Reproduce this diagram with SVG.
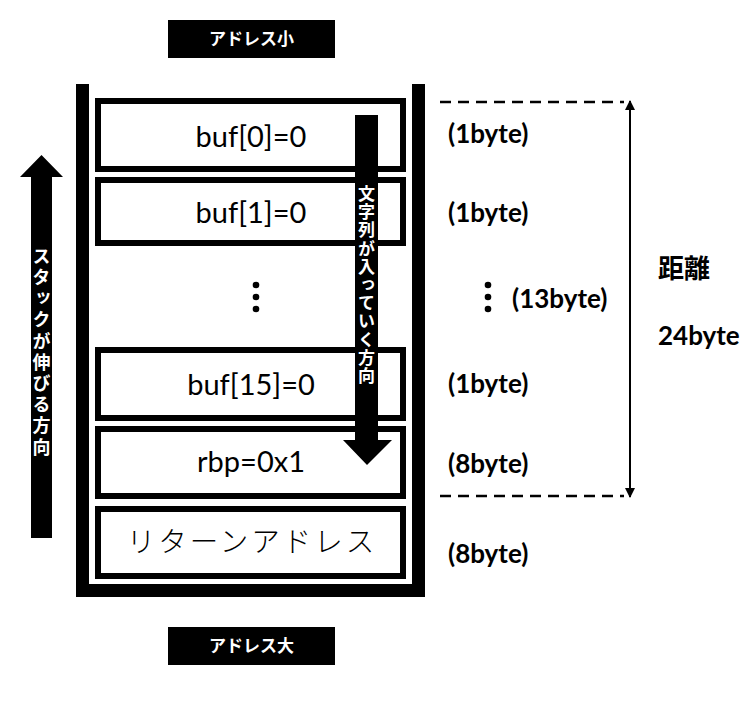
<svg xmlns="http://www.w3.org/2000/svg" width="756" height="704" viewBox="0 0 756 704">
<defs>
<style>
.lbl{fill:#000}
.lbltxt{font-family:"Noto Sans CJK JP","Noto Sans",sans-serif;font-weight:bold;font-size:17px;fill:#fff;text-anchor:middle}
.box{fill:#fff;stroke:#000;stroke-width:6}
.btxt{font-family:Lato,"Liberation Sans",sans-serif;font-size:29px;fill:#000;text-anchor:middle}
.size{font-family:Lato,"Liberation Sans",sans-serif;font-weight:bold;font-size:26px;fill:#000}
.vtxt{font-family:"Noto Sans CJK JP",sans-serif;font-weight:bold;fill:#fff;writing-mode:vertical-rl}
.dash{stroke:#000;stroke-width:2.4;stroke-dasharray:11 7;fill:none}
</style>
<marker id="ah" viewBox="0 0 10 10" refX="9" refY="5" markerWidth="10" markerHeight="10" markerUnits="userSpaceOnUse" orient="auto-start-reverse">
<path d="M0,0 L10,5 L0,10 Z" fill="#000"/>
</marker>
</defs>
<rect width="756" height="704" fill="#fff"/>

<g id="label-top">
<rect class="lbl" x="168" y="20" width="167" height="38"/>
<text class="lbltxt" x="251.5" y="45">アドレス小</text>
</g>

<g id="stack-container">
<path d="M82.5,84 V590.5 H418.5 V84" fill="none" stroke="#000" stroke-width="13"/>
</g>

<g id="buf0">
<rect class="box" x="98" y="101" width="305" height="68"/>
<text class="btxt" x="251" y="147">buf[0]=0</text>
</g>
<g id="buf1">
<rect class="box" x="98" y="180" width="305" height="63"/>
<text class="btxt" x="251" y="223">buf[1]=0</text>
</g>
<g id="dots-mid">
<circle cx="256" cy="285" r="3.3"/>
<circle cx="256" cy="297" r="3.3"/>
<circle cx="256" cy="309" r="3.3"/>
</g>
<g id="buf15">
<rect class="box" x="98" y="350" width="305" height="68"/>
<text class="btxt" x="251" y="395">buf[15]=0</text>
</g>
<g id="rbp">
<rect class="box" x="98" y="429" width="305" height="67"/>
<text class="btxt" x="251" y="472">rbp=0x1</text>
</g>
<g id="retaddr">
<rect class="box" x="98" y="509" width="305" height="67"/>
<text x="252" y="552" font-family="'Noto Sans CJK JP',sans-serif" font-weight="300" font-size="28.5" letter-spacing="3" text-anchor="middle" fill="#000">リターンアドレス</text>
</g>

<g id="arrow-stack-grow">
<polygon points="41.5,155 63,177 52,177 52,538 31,538 31,177 20,177" fill="#000"/>
<text class="vtxt" x="41.5" y="247" font-size="18" letter-spacing="3.2">スタックが伸びる方向</text>
</g>

<g id="arrow-string">
<polygon points="367,465 392,440 378,440 378,115 355,115 355,440 343,440" fill="#000"/>
<text class="vtxt" x="366.5" y="185" font-size="17" letter-spacing="1.2">文字列が入っていく方向</text>
</g>

<g id="label-bottom">
<rect class="lbl" x="168" y="627" width="167" height="38"/>
<text class="lbltxt" x="251.5" y="652">アドレス大</text>
</g>

<g id="connectors">
<line class="dash" x1="440" y1="102" x2="624" y2="102"/>
<line class="dash" x1="440" y1="496" x2="624" y2="496"/>
<line x1="630" y1="101" x2="630" y2="497" stroke="#000" stroke-width="2" marker-start="url(#ah)" marker-end="url(#ah)"/>
</g>

<g id="sizes">
<text class="size" x="448" y="143">(1byte)</text>
<text class="size" x="448" y="222">(1byte)</text>
<circle cx="488" cy="285" r="3.3"/>
<circle cx="488" cy="297" r="3.3"/>
<circle cx="488" cy="309" r="3.3"/>
<text class="size" x="512" y="308">(13byte)</text>
<text class="size" x="448" y="393">(1byte)</text>
<text class="size" x="448" y="473">(8byte)</text>
<text class="size" x="448" y="563">(8byte)</text>
</g>

<g id="distance">
<text x="658" y="278" font-family="'Noto Sans CJK JP',sans-serif" font-weight="bold" font-size="26" fill="#000">距離</text>
<text class="size" x="658" y="345">24byte</text>
</g>
</svg>
